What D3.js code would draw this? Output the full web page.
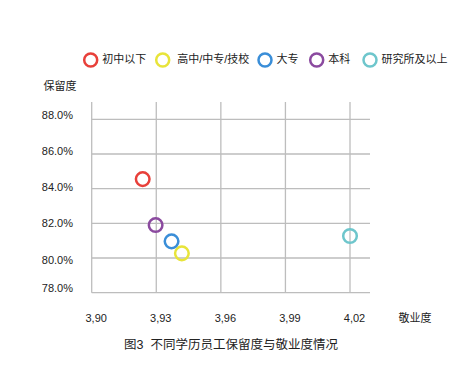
<!DOCTYPE html>
<html><head><meta charset="utf-8">
<script src="https://cdn.jsdelivr.net/npm/d3@7"></script>
<style>body{margin:0;background:#fff;}svg{display:block;}text{font-family:"Liberation Sans","Noto Sans CJK SC",sans-serif;fill:#222;}</style>
</head><body>
<svg id="c" width="468" height="383"></svg>
<script>
const categories = ["初中以下","高中/中专/技校","大专","本科","研究所及以上"];
const colors = ["#e8403a","#e8e43a","#3a8ed8","#8b4a9f","#6ec6cc"];
const engagement = [3.9237, 3.9419, 3.9371, 3.9297, 4.0200];
const retention = [84.55, 80.27, 80.96, 81.90, 81.27];
const xTicks = [3.90, 3.93, 3.96, 3.99, 4.02];
const xTickLabels = ["3,90","3,93","3,96","3,99","4,02"];
const yTicks = [78, 80, 82, 84, 86, 88];
const yTickLabels = ["78.0%","80.0%","82.0%","84.0%","86.0%","88.0%"];

const svg = d3.select("#c");
const x = d3.scaleLinear().domain([3.90, 4.02]).range([91.7, 350]);
const y = d3.scaleLinear().domain([78, 88]).range([292.7, 119.3]);
// tick labels in the source sit on their own slightly wider spacing
const yLab = d3.scaleLinear().domain([80, 88]).range([260.7, 116]);
const xRight = 370, yTop = 102;

const g = svg.append("g");
g.selectAll("line.h").data(yTicks).join("line")
  .attr("x1", x(3.90)).attr("x2", xRight)
  .attr("y1", d => y(d)).attr("y2", d => y(d))
  .attr("stroke", "#bdbdbd").attr("stroke-width", 1.3);
g.selectAll("line.v").data(xTicks).join("line")
  .attr("x1", d => x(d)).attr("x2", d => x(d))
  .attr("y1", yTop).attr("y2", y(78))
  .attr("stroke", "#bdbdbd").attr("stroke-width", 1.3);

g.selectAll("text.yl").data(yTicks).join("text")
  .attr("x", 73).attr("y", d => d === 78 ? y(d) - 3.5 : yLab(d))
  .attr("text-anchor", "end").attr("dominant-baseline", "middle")
  .style("font-size", "11px").text((d,i) => yTickLabels[i]);
g.selectAll("text.xl").data(xTicks).join("text")
  .attr("x", d => x(d) + 4.5).attr("y", 319)
  .attr("text-anchor", "middle").attr("dominant-baseline", "middle")
  .style("font-size", "11px").text((d,i) => xTickLabels[i]);

svg.append("text").attr("x", 415).attr("y", 319).attr("text-anchor","middle")
  .attr("dominant-baseline","middle").style("font-size","11px").text("敬业度");
svg.append("text").attr("x", 60).attr("y", 87).attr("text-anchor","middle")
  .attr("dominant-baseline","middle").style("font-size","11px").text("保留度");
svg.append("text").attr("x", 231).attr("y", 346).attr("text-anchor","middle")
  .attr("dominant-baseline","middle").style("font-size","12.5px")
  .attr("xml:space","preserve").style("white-space","pre")
  .text("图3  不同学历员工保留度与敬业度情况");

svg.selectAll("circle.pt").data(categories).join("circle")
  .attr("cx", (d,i) => x(engagement[i])).attr("cy", (d,i) => y(retention[i]))
  .attr("r", 6.8).attr("fill", "none")
  .attr("stroke", (d,i) => colors[i]).attr("stroke-width", 2.5);

const legX = [90.7, 162.7, 265, 316.7, 370];
const lg = svg.selectAll("g.leg").data(categories).join("g")
  .attr("transform", (d,i) => `translate(${legX[i]},60)`);
lg.append("circle").attr("r", 6.5).attr("fill","none")
  .attr("stroke", (d,i) => colors[i]).attr("stroke-width", 2.5);
lg.append("text").attr("x", (d,i) => i===1 ? 14.5 : 11.5).attr("y", 0.5)
  .attr("dominant-baseline","middle").style("font-size","11px").text(d => d);
</script>
</body></html>
